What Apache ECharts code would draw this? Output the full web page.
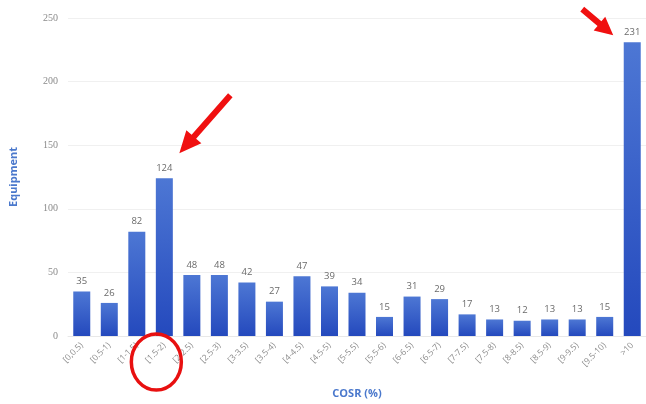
<!DOCTYPE html>
<html>
<head>
<meta charset="utf-8">
<script src="https://cdn.jsdelivr.net/npm/echarts@6/dist/echarts.min.js"></script>
<style>
  html, body { margin: 0; padding: 0; background: #fff; }
  #chart { width: 646px; height: 404px; }
</style>
</head>
<body>
<div id="chart"></div>
<script>
// COSR ranges (%) and equipment counts per range
const categories = [
  '[0,0.5)', '[0.5-1)', '[1-1.5)', '[1.5-2)', '[2-2.5)', '[2.5-3)', '[3-3.5)',
  '[3.5-4)', '[4-4.5)', '[4.5-5)', '[5-5.5)', '[5.5-6)', '[6-6.5)', '[6.5-7)',
  '[7-7.5)', '[7.5-8)', '[8-8.5)', '[8.5-9)', '[9-9.5)', '[9.5-10)', '>10'
];
const equipment = [35, 26, 82, 124, 48, 48, 42, 27, 47, 39, 34, 15, 31, 29, 17, 13, 12, 13, 13, 15, 231];
const yTicks = [0, 50, 100, 150, 200, 250];

// indices of the highlighted bars
const arrowBars = [3, 20];

const chart = echarts.init(document.getElementById('chart'), null, { renderer: 'canvas' });

const option = {
  animation: false,
  backgroundColor: '#ffffff',
  grid: { left: 65, right: -4, top: 18, bottom: 68 },
  xAxis: {
    type: 'category',
    data: categories,
    name: 'COSR (%)',
    nameLocation: 'middle',
    nameGap: 52,
    nameTextStyle: { color: '#4a78cc', fontSize: 11, fontWeight: 'bold', fontFamily: 'Open Sans' },
    axisLine: { show: true, lineStyle: { color: '#e8e8e8' } },
    axisTick: { show: false },
    axisLabel: {
      interval: 0, rotate: 45, color: '#8a8a8a', fontSize: 8.5,
      fontFamily: 'Open Sans', margin: 8
    }
  },
  yAxis: {
    type: 'value',
    min: yTicks[0],
    max: yTicks[yTicks.length - 1],
    interval: 50,
    name: 'Equipment',
    nameLocation: 'middle',
    nameGap: 49,
    nameTextStyle: { color: '#4a78cc', fontSize: 11, fontWeight: 'bold', fontFamily: 'Open Sans' },
    axisLine: { show: false },
    axisTick: { show: false },
    axisLabel: { color: '#8a8a8a', fontSize: 10, fontFamily: 'Liberation Serif', margin: 10 },
    splitLine: { show: true, lineStyle: { color: '#f0f0f0', width: 1 } }
  },
  series: [{
    type: 'bar',
    data: equipment,
    barWidth: 17,
    itemStyle: {
      color: new echarts.graphic.LinearGradient(0, 0, 0, 1, [
        { offset: 0, color: '#4d77d4' },
        { offset: 1, color: '#2449bd' }
      ])
    },
    label: {
      show: true, position: 'top', distance: 5,
      color: '#6a6a6a', fontSize: 9.5, fontFamily: 'Open Sans'
    }
  }]
};

chart.setOption(option);

// Build a filled arrow polygon from tail to tip
function arrowPoints(tail, tip, shaft, headLen, headW) {
  const dx = tip[0] - tail[0], dy = tip[1] - tail[1];
  const len = Math.sqrt(dx * dx + dy * dy);
  const ux = dx / len, uy = dy / len;
  const px = -uy, py = ux;
  const bx = tip[0] - ux * headLen, by = tip[1] - uy * headLen;
  return [
    [tail[0] + px * shaft / 2, tail[1] + py * shaft / 2],
    [bx + px * shaft / 2, by + py * shaft / 2],
    [bx + px * headW / 2, by + py * headW / 2],
    tip,
    [bx - px * headW / 2, by - py * headW / 2],
    [bx - px * shaft / 2, by - py * shaft / 2],
    [tail[0] - px * shaft / 2, tail[1] - py * shaft / 2]
  ];
}

// Anchor the annotations to the highlighted bars
const top1 = chart.convertToPixel({ gridIndex: 0 }, [arrowBars[0], equipment[arrowBars[0]]]);
const top2 = chart.convertToPixel({ gridIndex: 0 }, [arrowBars[1], equipment[arrowBars[1]]]);
const base1 = chart.convertToPixel({ gridIndex: 0 }, [arrowBars[0], 0]);

const tip1 = [top1[0] + 15, top1[1] - 25];
const tail1 = [tip1[0] + 51, tip1[1] - 58];
const tip2 = [top2[0] - 19, top2[1] - 7];
const tail2 = [tip2[0] - 31, tip2[1] - 26];

chart.setOption({
  graphic: [
    {
      type: 'polygon',
      shape: { points: arrowPoints(tail1, tip1, 6, 22, 20) },
      style: { fill: '#f01010' },
      z: 100
    },
    {
      type: 'polygon',
      shape: { points: arrowPoints(tail2, tip2, 6, 18, 18) },
      style: { fill: '#f01010' },
      z: 100
    },
    {
      type: 'ellipse',
      shape: { cx: base1[0] - 8, cy: base1[1] + 26, rx: 25, ry: 28 },
      style: { fill: 'none', stroke: '#e81010', lineWidth: 3.5 },
      z: 100
    }
  ]
});
</script>
</body>
</html>
